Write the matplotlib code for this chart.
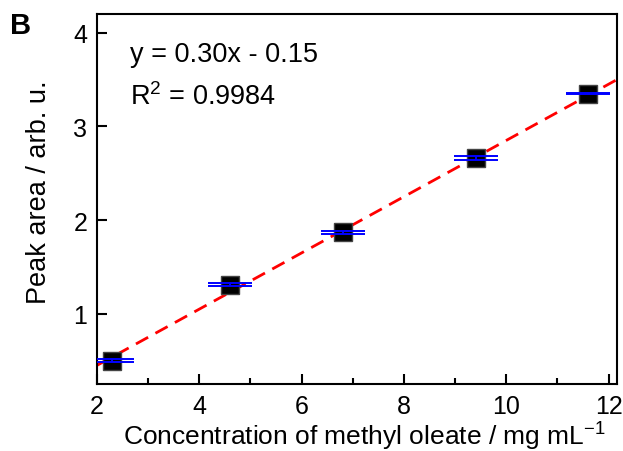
import numpy as np
import matplotlib
matplotlib.use("Agg")
import matplotlib.pyplot as plt
from matplotlib.ticker import MultipleLocator

plt.rcParams['font.family'] = ['Liberation Sans', 'DejaVu Sans']

# data
conc = [2.3, 4.6, 6.8, 9.4, 11.6]
area = [0.50, 1.31, 1.87, 2.66, 3.35]
area_err = [0.018, 0.016, 0.015, 0.021, 0.008]
slope = 0.30
intercept = -0.15

fig = plt.figure(figsize=(6.23, 4.52), dpi=100)
ax = fig.add_axes([0.1557, 0.148, 0.8343, 0.819])

xfit = np.array([2.0, 12.16])
ax.plot(xfit, slope * xfit + intercept, '--', color='red', lw=2, dashes=(5, 3), zorder=1)
ax.plot(conc, area, 's', color='black', mec='#444444', ms=13, zorder=2)
ax.errorbar(conc, area, yerr=area_err, fmt='none', ecolor='blue', elinewidth=1.4,
            capsize=16, capthick=1.4, zorder=3)

ax.set_xlim(2.0, 12.16)
ax.set_ylim(0.25, 4.2)
ax.xaxis.set_major_locator(MultipleLocator(2))
ax.xaxis.set_minor_locator(MultipleLocator(1))
ax.yaxis.set_major_locator(MultipleLocator(1))
ax.tick_params(direction='in', length=7, width=1.5, labelsize=18, pad=7)
ax.tick_params(which='minor', direction='in', length=4, width=1.5)
for s in ax.spines.values():
    s.set_linewidth(1.5)

ax.set_xlabel('Concentration of methyl oleate / mg mL$^{\\mathregular{-1}}$', fontsize=19)
ax.xaxis.set_label_coords(0.515, -0.093)
ax.xaxis.label.set_va('top')
ax.set_ylabel('Peak area / arb. u.', fontsize=19.5)
ax.yaxis.set_label_coords(-0.087, 0.52)

ax.text(0.063, 0.892, 'y = 0.30x - 0.15', transform=ax.transAxes, fontsize=19.5, va='center')
ax.text(0.063, 0.778, 'R$^{\\mathregular{2}}$ = 0.9984', transform=ax.transAxes, fontsize=19.5, va='center')
fig.text(0.016, 0.943, 'B', fontsize=21, fontweight='bold', va='center')

fig.savefig('out.png', dpi=100)
